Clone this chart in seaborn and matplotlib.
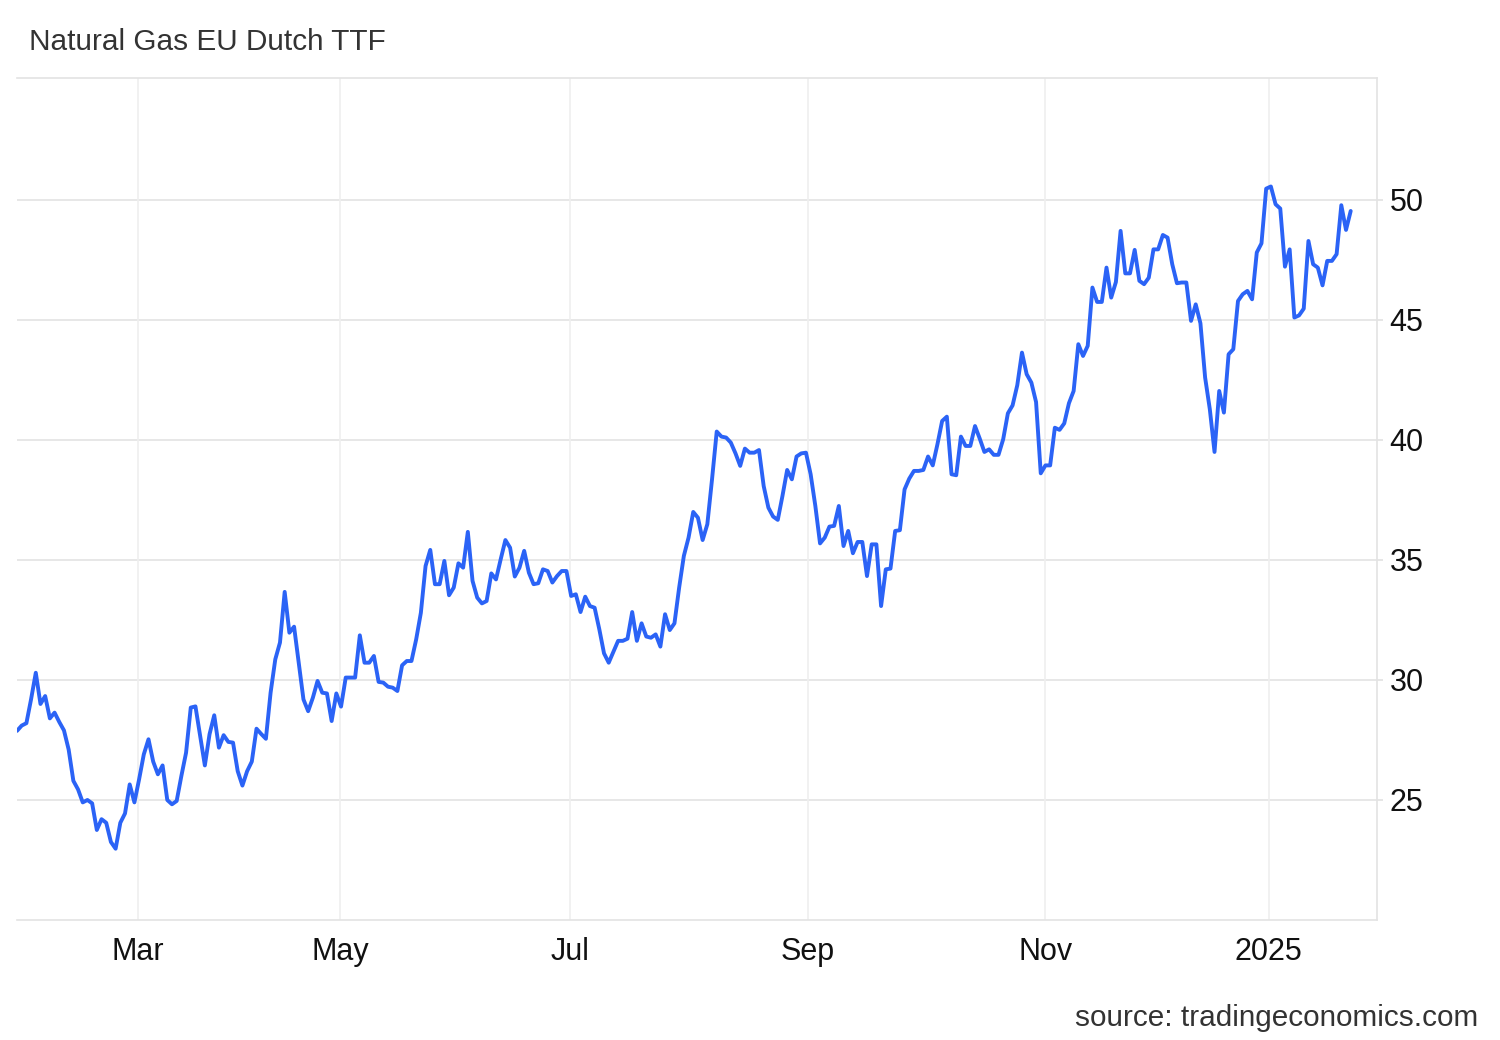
import matplotlib
matplotlib.use("Agg")
import matplotlib.pyplot as plt
import seaborn as sns
import numpy as np
import pandas as pd

# daily settlement prices (EUR/MWh), one per trading day
prices = [
    27.88, 28.10, 28.20, 29.20, 30.30, 29.00, 29.33, 28.40, 28.64, 28.25,
    27.90, 27.10, 25.80, 25.44, 24.90, 25.00, 24.86, 23.75, 24.20, 24.05,
    23.25, 22.97, 24.05, 24.44, 25.65, 24.90, 25.86, 26.90, 27.53, 26.60,
    26.07, 26.44, 25.00, 24.82, 24.96, 26.00, 26.97, 28.85, 28.90, 27.67,
    26.44, 27.74, 28.53, 27.18, 27.70, 27.42, 27.39, 26.20, 25.60, 26.20,
    26.60, 27.97, 27.75, 27.55, 29.47, 30.86, 31.56, 33.67, 31.97, 32.22,
    30.72, 29.19, 28.70, 29.26, 29.96, 29.47, 29.44, 28.29, 29.44, 28.89,
    30.10, 30.10, 30.10, 31.86, 30.72, 30.72, 31.00, 29.92, 29.89, 29.72,
    29.68, 29.54, 30.61, 30.79, 30.79, 31.69, 32.80, 34.75, 35.42, 33.99,
    33.99, 34.96, 33.53, 33.85, 34.86, 34.68, 36.17, 34.13, 33.43, 33.19,
    33.29, 34.44, 34.19, 35.03, 35.83, 35.51, 34.31, 34.68, 35.38, 34.47,
    33.99, 34.03, 34.61, 34.54, 34.06, 34.33, 34.54, 34.54, 33.50, 33.57,
    32.83, 33.47, 33.08, 33.01, 32.11, 31.11, 30.72, 31.17, 31.63, 31.63,
    31.72, 32.83, 31.63, 32.36, 31.81, 31.76, 31.90, 31.39, 32.74, 32.08,
    32.36, 33.85, 35.17, 35.93, 37.00, 36.76, 35.83, 36.49, 38.36, 40.35,
    40.14, 40.10, 39.89, 39.44, 38.92, 39.64, 39.47, 39.47, 39.58, 38.08,
    37.18, 36.81, 36.67, 37.67, 38.75, 38.36, 39.31, 39.44, 39.47, 38.57,
    37.25, 35.69, 35.93, 36.39, 36.42, 37.25, 35.58, 36.21, 35.28, 35.75,
    35.75, 34.33, 35.65, 35.65, 33.08, 34.61, 34.64, 36.21, 36.24, 37.94,
    38.39, 38.71, 38.71, 38.75, 39.31, 38.94, 39.82, 40.79, 40.97, 38.57,
    38.53, 40.14, 39.75, 39.75, 40.58, 40.06, 39.50, 39.61, 39.38, 39.38,
    40.03, 41.11, 41.44, 42.28, 43.64, 42.74, 42.39, 41.58, 38.61, 38.94,
    38.94, 40.51, 40.42, 40.69, 41.53, 42.04, 43.99, 43.50, 43.92, 46.35,
    45.75, 45.75, 47.18, 45.93, 46.58, 48.71, 46.94, 46.94, 47.92, 46.63,
    46.49, 46.76, 47.94, 47.94, 48.54, 48.43, 47.32, 46.53, 46.56, 46.56,
    44.96, 45.65, 44.86, 42.60, 41.28, 39.50, 42.04, 41.14, 43.57, 43.78,
    45.79, 46.07, 46.21, 45.86, 47.81, 48.19, 50.47, 50.56, 49.82, 49.64,
    47.22, 47.94, 45.10, 45.19, 45.47, 48.29, 47.32, 47.18, 46.44, 47.46,
    47.46, 47.74, 49.78, 48.75, 49.54,
]

# month labels and where they fall on the trading-day index
month_labels = ["Mar", "May", "Jul", "Sep", "Nov", "2025"]
month_pos = [25.7, 68.8, 117.7, 168.4, 219.0, 266.5]
y_ticks = [25, 30, 35, 40, 45, 50]

df = pd.DataFrame({"day": np.arange(len(prices)), "price": prices})

sns.set_theme(style="white")
plt.rcParams['font.family'] = ['Liberation Sans', 'DejaVu Sans']

fig = plt.figure(figsize=(15, 10.4), dpi=100)
ax = fig.add_axes([17 / 1500, 1 - 920 / 1040, 1360 / 1500, 842 / 1040])

sns.lineplot(data=df, x="day", y="price", ax=ax, color="#2b63f6", linewidth=2.8)

ax.set_xlim(0, 289.6)
ax.set_ylim(20.0, 55.08)

ax.yaxis.tick_right()
ax.set_yticks(y_ticks)
ax.set_xticks(month_pos)
ax.set_xticklabels(month_labels)
ax.set_xlabel("")
ax.set_ylabel("")

ax.grid(False)
for y in y_ticks:
    ax.axhline(y, color="#e3e3e3", linewidth=1.2, zorder=0)
for x in month_pos:
    ax.axvline(x, color="#efefef", linewidth=1.2, zorder=0)

for side in ["top", "bottom", "right"]:
    ax.spines[side].set_visible(True)
    ax.spines[side].set_color("#e3e3e3")
    ax.spines[side].set_linewidth(1.2)
ax.spines["left"].set_visible(False)

ax.tick_params(axis="y", which="both", right=True, left=False, length=4,
               color="#e3e3e3", pad=5, labelsize=22, labelcolor="#111111")
ax.tick_params(axis="x", which="both", bottom=False, pad=6,
               labelsize=22, labelcolor="#111111")

fig.text(29 / 1500, 1 - 42 / 1040, "Natural Gas EU Dutch TTF", ha="left",
         va="center", fontsize=21.4, color="#333333")
fig.text(1478 / 1500, 1 - 1018 / 1040, "source: tradingeconomics.com",
         ha="right", va="center", fontsize=21.4, color="#333333")

fig.savefig("out.png", dpi=100, facecolor="white")
